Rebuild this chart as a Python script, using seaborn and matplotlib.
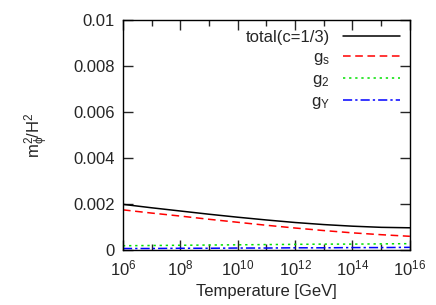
import numpy as np
import pandas as pd
import matplotlib
matplotlib.use("Agg")
import matplotlib.pyplot as plt
import seaborn as sns

# values, one per decade from 10^6 to 10^16 GeV
log_temp = [6, 7, 8, 9, 10, 11, 12, 13, 14, 15, 16]
total = [0.00199, 0.00184, 0.00170, 0.00156, 0.00143, 0.00131, 0.00120, 0.00111, 0.00104, 0.00099, 0.00097]
g_s = [0.00175, 0.00161, 0.00148, 0.00134, 0.00121, 0.00108, 0.00096, 0.00085, 0.00075, 0.00067, 0.00060]
g_2 = [0.00019, 0.00020, 0.00021, 0.00022, 0.00023, 0.00024, 0.00025, 0.00026, 0.00026, 0.00027, 0.00028]
g_y = [0.00007, 0.00007, 0.00008, 0.00008, 0.00009, 0.00009, 0.00010, 0.00010, 0.00011, 0.00011, 0.00012]

series_names = ["total(c=1/3)", "g$_s$", "g$_2$", "g$_Y$"]
colors = ["black", "#ff0000", "#00e000", "#0000ff"]
dashes = [(None, None), (5, 3), (1.5, 2.5), (6, 2, 1.5, 2)]

y_ticks = [0, 0.002, 0.004, 0.006, 0.008, 0.01]
y_tick_labels = ["0", "0.002", "0.004", "0.006", "0.008", "0.01"]

sns.set_style("ticks")
plt.rcParams["font.family"] = ["Liberation Sans", "DejaVu Sans"]
plt.rcParams["mathtext.default"] = "regular"
plt.rcParams["font.size"] = 12

temp = 10.0 ** np.array(log_temp)
df = pd.DataFrame({"T": temp})
for name, vals in zip(series_names, [total, g_s, g_2, g_y]):
    df[name] = vals
long_df = df.melt(id_vars="T", var_name="series", value_name="m2")

fig = plt.figure(figsize=(4.36, 3.05), dpi=100)
ax = fig.add_axes([0.282, 0.180, 0.658, 0.754])

for name, col, ds in zip(series_names, colors, dashes):
    sub = long_df[long_df["series"] == name]
    sns.lineplot(data=sub, x="T", y="m2", ax=ax, color=col,
                 linewidth=1.1, label=name)
    l = ax.lines[-1]
    if ds[0] is not None:
        l.set_dashes(ds)

ax.set_xscale("log")
ax.set_xlim(1e6, 1e16)
ax.set_ylim(0, 0.01)
ax.set_xticks(10.0 ** np.arange(6, 17, 2))
ax.set_xticks(10.0 ** np.arange(7, 17, 2), minor=True)
ax.xaxis.set_minor_formatter(matplotlib.ticker.NullFormatter())
ax.set_yticks(y_ticks)
ax.set_yticklabels(y_tick_labels)
ax.yaxis.set_minor_locator(matplotlib.ticker.NullLocator())
ax.tick_params(which="both", direction="in", top=True, right=True,
               labelsize=12, pad=6)
ax.tick_params(which="major", length=7, width=1)
ax.tick_params(which="minor", length=4, width=1)
for sp in ax.spines.values():
    sp.set_linewidth(1)
    sp.set_color("black")

ax.set_xlabel("Temperature [GeV]", fontsize=12, labelpad=4)
ax.set_ylabel("m$_\\phi^2$/H$^2$", fontsize=12, labelpad=16)

ax.legend(loc="upper right", frameon=False, markerfirst=False,
          fontsize=12, handlelength=3.4, labelspacing=0.3,
          borderaxespad=0.2, handletextpad=0.8)

fig.savefig("out.png", dpi=100)
